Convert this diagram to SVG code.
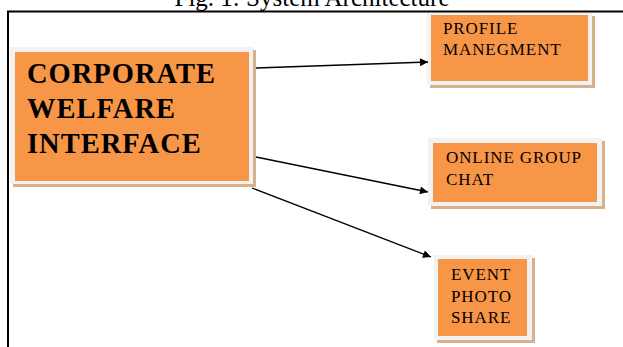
<svg xmlns="http://www.w3.org/2000/svg" width="623" height="347" viewBox="0 0 623 347">
<defs>
<marker id="ah" viewBox="0 0 10 10" refX="10" refY="5" markerWidth="10" markerHeight="8" markerUnits="userSpaceOnUse" orient="auto">
<path d="M0,0 L10,5 L0,10 z" fill="#000"/>
</marker>
</defs>
<style>
.shadow{fill:#d9b08c}
.rim{fill:#f2f2f2}
.body{fill:#f79646}
.big{font-family:"Liberation Serif","Times New Roman",serif;font-weight:bold;font-size:28.5px;letter-spacing:1px;fill:#000}
.small{font-family:"Liberation Serif","Times New Roman",serif;font-size:17px;letter-spacing:0.9px;fill:#000}
.cap{font-family:"Liberation Serif","Times New Roman",serif;font-size:25px;fill:#000}
.conn{stroke:#000;stroke-width:1.3;fill:none;marker-end:url(#ah)}
</style>
<rect width="623" height="347" fill="#fff"/>
<text class="cap" x="312" y="6" text-anchor="middle">Fig. 1: System Architecture</text>
<path d="M8,347 V11.5 H623" fill="none" stroke="#000" stroke-width="2"/>
<g id="corporate">
<rect class="shadow" x="13" y="50" width="243" height="137"/>
<rect class="rim" x="10" y="47" width="243" height="137"/>
<rect class="body" x="15" y="52" width="234" height="129"/>
<text class="big" x="27" y="83">CORPORATE</text>
<text class="big" x="27" y="118">WELFARE</text>
<text class="big" x="27" y="153">INTERFACE</text>
</g>
<g id="profile">
<rect class="shadow" x="430" y="16" width="165" height="72"/>
<rect class="rim" x="427" y="13" width="165" height="72"/>
<rect class="body" x="431" y="15" width="157" height="66"/>
<text class="small" x="443" y="34">PROFILE</text>
<text class="small" x="443" y="55">MANEGMENT</text>
</g>
<g id="online">
<rect class="shadow" x="431" y="141" width="174" height="68"/>
<rect class="rim" x="428" y="138" width="174" height="68"/>
<rect class="body" x="433" y="143" width="164" height="59"/>
<text class="small" x="446" y="163">ONLINE GROUP</text>
<text class="small" x="446" y="185">CHAT</text>
</g>
<g id="event">
<rect class="shadow" x="437" y="258" width="98" height="85"/>
<rect class="rim" x="434" y="255" width="98" height="85"/>
<rect class="body" x="438" y="259" width="89" height="77"/>
<text class="small" x="451" y="280">EVENT</text>
<text class="small" x="451" y="302">PHOTO</text>
<text class="small" x="451" y="323">SHARE</text>
</g>
<g id="connectors">
<line class="conn" x1="256" y1="68" x2="428" y2="62"/>
<line class="conn" x1="256" y1="157" x2="428" y2="192"/>
<line class="conn" x1="252" y1="188" x2="431" y2="257"/>
</g>
</svg>
